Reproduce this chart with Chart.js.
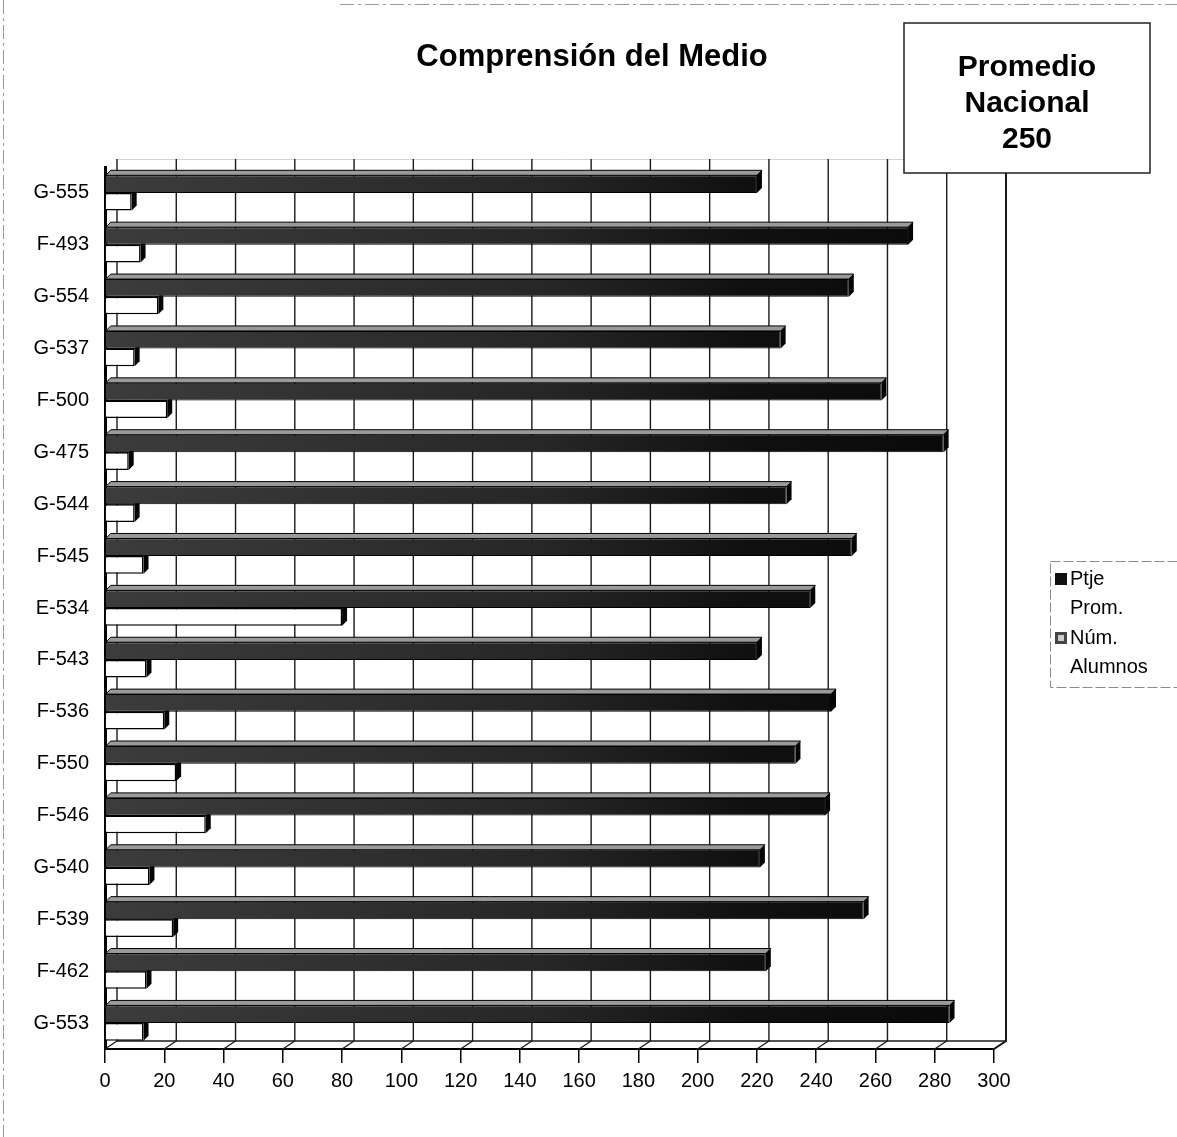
<!DOCTYPE html>
<html>
<head>
<meta charset="utf-8">
<script src="https://cdn.jsdelivr.net/npm/chart.js@4.4.0/dist/chart.umd.min.js"></script>
<style>
  html, body { margin: 0; padding: 0; background: #fff; }
  canvas { display: block; }
</style>
</head>
<body>
<canvas id="c" width="1177" height="1137"></canvas>
<script>
// Schools (top to bottom) and their results in "Comprensión del Medio"
const escuelas = ['G-555', 'F-493', 'G-554', 'G-537', 'F-500', 'G-475', 'G-544', 'F-545', 'E-534',
                  'F-543', 'F-536', 'F-550', 'F-546', 'G-540', 'F-539', 'F-462', 'G-553'];
const ptjeProm   = [220, 271, 251, 228, 262, 283, 230, 252, 238, 220, 245, 233, 243, 221, 256, 223, 285];
const numAlumnos = [9, 12, 18, 10, 21, 8, 10, 13, 80, 14, 20, 24, 34, 15, 23, 14, 13];
const xTicks = [0, 20, 40, 60, 80, 100, 120, 140, 160, 180, 200, 220, 240, 260, 280, 300];
const serieNombres = ['Ptje Prom.', 'Núm. Alumnos'];
const tituloGrafico = 'Comprensión del Medio';
const promedioNacional = 250;

const FONT = '"Liberation Sans", Arial, Helvetica, sans-serif';
const DX = 12, DY = 8;      // depth of the back wall
const BAR_D = 5;            // depth of each bar

// dark bars: greyish towards the axis, black towards the end
function darkFill(ctx) {
  const area = ctx.chart.chartArea;
  if (!area) return '#111';
  const g = ctx.chart.ctx.createLinearGradient(area.left, 0, area.right, 0);
  g.addColorStop(0, '#3c3c3c');
  g.addColorStop(0.5, '#262626');
  g.addColorStop(0.72, '#101010');
  g.addColorStop(1, '#080808');
  return g;
}

// back wall, floor and bar depth faces
const wall3d = {
  id: 'wall3d',
  beforeDatasetsDraw(chart) {
    const { ctx, chartArea: a, scales: { x } } = chart;
    ctx.save();
    // faint top edge of the wall
    ctx.strokeStyle = '#d4d4d4';
    ctx.lineWidth = 1;
    ctx.beginPath();
    ctx.moveTo(a.left + DX, a.top - DY + 0.5);
    ctx.lineTo(a.right + DX, a.top - DY + 0.5);
    ctx.stroke();
    // vertical grid lines on the back wall + floor diagonals
    ctx.strokeStyle = '#1a1a1a';
    ctx.lineWidth = 1.4;
    x.ticks.forEach(t => {
      const px = x.getPixelForValue(t.value);
      ctx.beginPath();
      ctx.moveTo(px + DX, a.top - DY);
      ctx.lineTo(px + DX, a.bottom - DY);
      ctx.lineTo(px, a.bottom);
      ctx.stroke();
    });
    // back edge of the floor
    ctx.beginPath();
    ctx.moveTo(a.left + DX, a.bottom - DY);
    ctx.lineTo(a.right + DX, a.bottom - DY);
    ctx.stroke();
    // right wall edge a bit heavier
    ctx.lineWidth = 2;
    ctx.beginPath();
    ctx.moveTo(a.right + DX, a.top - DY);
    ctx.lineTo(a.right + DX, a.bottom - DY);
    ctx.lineTo(a.right, a.bottom);
    ctx.stroke();

    // depth faces of the bars (fronts are drawn over them)
    chart.data.datasets.forEach((ds, di) => {
      const meta = chart.getDatasetMeta(di);
      meta.data.forEach(el => {
        const top = el.y - el.height / 2, bot = el.y + el.height / 2;
        const x0 = el.base, x1 = el.x;
        ctx.fillStyle = di === 0 ? '#9a9a9a' : '#f2f2f2';
        ctx.strokeStyle = '#000';
        ctx.lineWidth = 1;
        ctx.beginPath();
        ctx.moveTo(x0, top);
        ctx.lineTo(x0 + BAR_D, top - BAR_D);
        ctx.lineTo(x1 + BAR_D, top - BAR_D);
        ctx.lineTo(x1, top);
        ctx.closePath();
        ctx.fill();
        ctx.stroke();
        ctx.fillStyle = '#050505';
        ctx.beginPath();
        ctx.moveTo(x1, top);
        ctx.lineTo(x1 + BAR_D, top - BAR_D);
        ctx.lineTo(x1 + BAR_D, bot - BAR_D);
        ctx.lineTo(x1, bot);
        ctx.closePath();
        ctx.fill();
      });
    });
    ctx.restore();
  }
};

// title, "Promedio Nacional" box, legend and page frame
const extras = {
  id: 'extras',
  afterDraw(chart) {
    const ctx = chart.ctx;
    ctx.save();

    // dashed page frame
    ctx.strokeStyle = '#9a9a9a';
    ctx.lineWidth = 1;
    ctx.setLineDash([14, 4, 3, 4]);
    ctx.beginPath();
    ctx.moveTo(340, 4.5); ctx.lineTo(1177, 4.5);
    ctx.moveTo(3.5, 0); ctx.lineTo(3.5, 1137);
    ctx.stroke();
    ctx.setLineDash([]);

    // title
    ctx.fillStyle = '#000';
    ctx.font = 'bold 31px ' + FONT;
    ctx.textAlign = 'center';
    ctx.textBaseline = 'middle';
    ctx.fillText(tituloGrafico, 592, 57);

    // national average box
    ctx.fillStyle = '#fff';
    ctx.fillRect(904, 23, 246, 150);
    ctx.strokeStyle = '#222';
    ctx.lineWidth = 1.5;
    ctx.strokeRect(904, 23, 246, 150);
    ctx.fillStyle = '#000';
    ctx.font = 'bold 30px ' + FONT;
    ['Promedio', 'Nacional', String(promedioNacional)].forEach((s, i) => {
      ctx.fillText(s, 1027, 68 + i * 36);
    });

    // legend
    ctx.strokeStyle = '#8a8a8a';
    ctx.lineWidth = 1;
    ctx.setLineDash([10, 3]);
    ctx.strokeRect(1050.5, 561.5, 140, 126);
    ctx.setLineDash([]);
    ctx.font = '20px ' + FONT;
    ctx.textAlign = 'left';
    chart.data.datasets.forEach((ds, i) => {
      const y0 = 579 + i * 59;
      ctx.fillStyle = i === 0 ? '#111' : '#444';
      ctx.fillRect(1055, y0 - 6, 12, 12);
      if (i === 1) {
        ctx.fillStyle = '#ccc';
        ctx.fillRect(1058, y0 - 3, 6, 6);
      }
      ctx.fillStyle = '#000';
      ds.label.split(' ').forEach((w, k) => {
        ctx.fillText(w, 1070, y0 + k * 29);
      });
    });
    ctx.restore();
  }
};

new Chart(document.getElementById('c'), {
  type: 'bar',
  data: {
    labels: escuelas,
    datasets: [
      {
        label: serieNombres[0],
        data: ptjeProm,
        backgroundColor: darkFill,
        borderColor: '#000',
        borderWidth: 1,
        categoryPercentage: 0.68,
        barPercentage: 1.0
      },
      {
        label: serieNombres[1],
        data: numAlumnos,
        backgroundColor: '#fff',
        borderColor: '#000',
        borderWidth: 1.5,
        categoryPercentage: 0.68,
        barPercentage: 1.0
      }
    ]
  },
  options: {
    indexAxis: 'y',
    responsive: false,
    animation: false,
    layout: { padding: { left: 0, right: 183, top: 167, bottom: 28 } },
    plugins: {
      legend: { display: false },
      tooltip: { enabled: false },
      title: { display: false }
    },
    scales: {
      x: {
        min: 0,
        max: 300,
        afterBuildTicks(scale) { scale.ticks = xTicks.map(v => ({ value: v })); },
        afterFit(scale) { scale.height = 60; },
        grid: { display: true, drawOnChartArea: false, drawTicks: true, tickLength: 14, color: '#000', lineWidth: 1.5 },
        border: { display: true, color: '#000', width: 2 },
        ticks: { color: '#000', font: { family: FONT, size: 20 }, padding: 6, maxRotation: 0 }
      },
      y: {
        afterFit(scale) { scale.width = 105; },
        grid: { display: false, drawTicks: false },
        border: { display: true, color: '#000', width: 3 },
        ticks: { color: '#000', font: { family: FONT, size: 20 }, padding: 16 }
      }
    }
  },
  plugins: [wall3d, extras]
});
</script>
</body>
</html>
